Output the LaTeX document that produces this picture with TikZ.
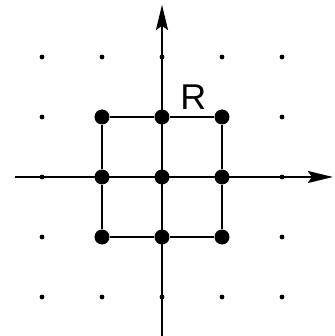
\documentclass[tikz,border=0pt]{standalone}
\usepackage{fontspec}
\setsansfont{Liberation Sans}
\usetikzlibrary{arrows.meta, positioning}
\tikzset{
  bigdot/.style={circle, fill=black, inner sep=0pt, minimum size=0.25cm},
  smalldot/.style={circle, fill=black, inner sep=0pt, minimum size=0.08cm},
  axis/.style={line width=1.1pt, -{Stealth[length=0.42cm, width=0.2cm, inset=0.07cm]}},
  edge/.style={line width=1.1pt}
}
\begin{document}
\begin{tikzpicture}
   \useasboundingbox (-2.7,-2.65) rectangle (2.867,2.95);
   % Axes
   \coordinate (west) at (-2.45,0);
   \coordinate (east) at (2.85,0);
   \coordinate (south) at (0,-2.65);
   \coordinate (north) at (0,2.87);
   \draw[axis] (west) -- (east);
   \draw[axis] (south) -- (north);
   % Lattice points
   \foreach \i in {1,...,5}
      \foreach \j in {1,...,5}
         \node[smalldot] (d\i\j) at (\i-3,\j-3) {};
   % Points of R
   \foreach \i in {2,3,4}
      \foreach \j in {2,3,4}
         \node[bigdot] (b\i\j) at (\i-3,\j-3) {};
   % Square
   \draw[edge] (b24) -- (b34) -- (b44);
   \draw[edge] (b22) -- (b32) -- (b42);
   \draw[edge] (b22) -- (b23) -- (b24);
   \draw[edge] (b42) -- (b43) -- (b44);
   \node (rlabel) at (0.52,1.33) {\sffamily\fontsize{17}{19}\selectfont R};
\end{tikzpicture}
\end{document}
